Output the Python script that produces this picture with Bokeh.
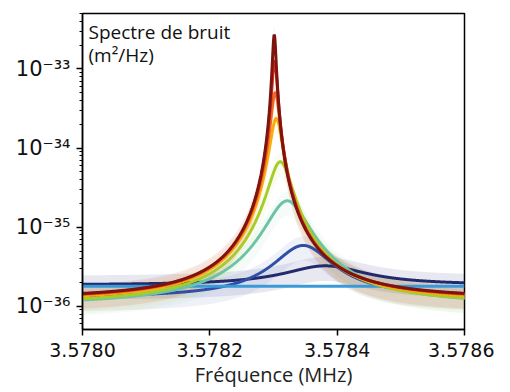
import numpy as np
from bokeh.plotting import figure
from bokeh.models import Range1d, FixedTicker, CustomJSTickFormatter, Label
from bokeh.embed import file_html
from bokeh.resources import INLINE

# ---- data (Lorentzian fits of noise spectra) ----
curve_colors = ["#222a6e", "#2f4fa6", "#6cc4a4", "#a6cc28", "#f7ad0c", "#f26a1f", "#d92b1c", "#7d1410"]
peak_heights = [1.4e-36, 4.6e-36, 2.05e-35, 6.6e-35, 2.35e-34, 5.0e-34, 1.25e-33, 2.7e-33]   # m^2/Hz above background
centers_mhz = [3.5783812, 3.5783467, 3.5783216, 3.5783106, 3.5783043, 3.5783028, 3.5783018, 3.5783012]
hwhm_mhz = [7.1e-5, 4.4e-5, 3.06e-5, 1.71e-5, 9.1e-6, 6.3e-6, 4.0e-6, 2.7e-6]
backgrounds = [1.85e-36, 1.28e-36, 1.02e-36, 1.05e-36, 1.15e-36, 1.2e-36, 1.22e-36, 1.24e-36]
band_alpha = [0.10, 0.08, 0.07, 0.06, 0.05, 0.04, 0.04, 0.04]
flat_level = 1.8e-36
flat_color = "#3a9ad9"

x_ticks = [3.5780, 3.5782, 3.5784, 3.5786]
x_start, x_end = 3.5780, 3.5786
y_start, y_end = 5.1e-37, 5.0e-33
title_lines = ["Spectre de bruit", "(m²/Hz)"]
x_label = "Fréquence (MHz)"

p = figure(frame_width=382, frame_height=316, output_backend="svg", toolbar_location=None,
           y_axis_type="log", x_range=Range1d(x_start, x_end), y_range=Range1d(y_start, y_end),
           min_border_left=82, min_border_right=30, min_border_top=13, min_border_bottom=10)
p.grid.visible = False
p.outline_line_color = "black"
p.outline_line_width = 1.5
p.background_fill_color = "white"
p.border_fill_color = "white"

f = np.linspace(x_start, x_end, 1501)

def lorentz(A, f0, g, b):
    return b + A / (1.0 + ((f - f0) / g) ** 2)

# light envelope of the measured (noisy) data
for c, A, f0, g, b, a in zip(curve_colors, peak_heights, centers_mhz, hwhm_mhz, backgrounds, band_alpha):
    s = lorentz(A, f0, g, b)
    p.varea(x=f, y1=s / 1.55, y2=s * 1.3, fill_color=c, fill_alpha=a)

for i in [0, 1]:
    s = lorentz(peak_heights[i], centers_mhz[i], hwhm_mhz[i], backgrounds[i])
    p.line(f, s, line_color=curve_colors[i], line_width=3, line_cap="round")
p.line([x_start, x_end], [flat_level, flat_level], line_color=flat_color, line_width=3)
for i in range(2, len(curve_colors)):
    s = lorentz(peak_heights[i], centers_mhz[i], hwhm_mhz[i], backgrounds[i])
    p.line(f, s, line_color=curve_colors[i], line_width=3, line_cap="round")

# axes
p.xaxis.ticker = FixedTicker(ticks=x_ticks)
p.xaxis.formatter = CustomJSTickFormatter(code="return tick.toFixed(4);")
p.xaxis.minor_tick_line_color = None
p.xaxis.axis_label = x_label
p.xaxis.axis_label_text_font = "Open Sans"
p.xaxis.axis_label_text_font_style = "normal"
p.xaxis.axis_label_text_font_size = "20px"
p.xaxis.axis_label_text_color = "#222222"
p.xaxis.axis_label_standoff = 1
p.xaxis.major_label_standoff = 7

p.yaxis.formatter = CustomJSTickFormatter(code="""
const sup = {'-':'\u207b','0':'\u2070','1':'\u00b9','2':'\u00b2','3':'\u00b3','4':'\u2074','5':'\u2075','6':'\u2076','7':'\u2077','8':'\u2078','9':'\u2079'};
const e = String(Math.round(Math.log10(tick)));
let s = '';
for (const ch of e) s += sup[ch];
return '10' + s;
""")
p.yaxis.major_label_standoff = 6

for ax in (p.xaxis, p.yaxis):
    ax.axis_line_width = 1.5
    ax.axis_line_color = "black"
    ax.major_tick_line_width = 1.5
    ax.major_tick_out = 6
    ax.major_tick_in = 0
    ax.minor_tick_out = 3
    ax.minor_tick_in = 0
    ax.major_label_text_font = "DejaVu Sans"
    ax.major_label_text_font_size = "19px"
    ax.major_label_text_color = "#111111"
p.yaxis.major_label_text_font_size = "21px"

# in-plot title (two lines)
p.add_layout(Label(x=x_start, y=y_end, x_offset=6, y_offset=-5, text=title_lines[0],
                   text_font="Open Sans", text_font_size="19px", text_baseline="top",
                   text_color="#111111"))
p.add_layout(Label(x=x_start, y=y_end, x_offset=6, y_offset=-28, text=title_lines[1],
                   text_font="Open Sans", text_font_size="19px", text_baseline="top",
                   text_color="#111111"))

open("out.html", "w").write(file_html(p, INLINE))
